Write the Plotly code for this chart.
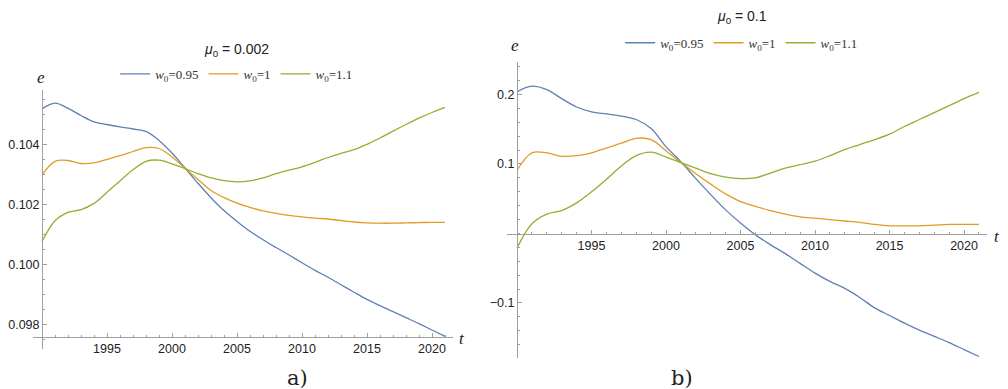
import plotly.graph_objects as go

years = list(range(1990, 2022))

# Panel a) mu0 = 0.002
a_w095 = [0.10518, 0.10537, 0.10520, 0.10496, 0.10475, 0.10466, 0.10458, 0.10451,
          0.10443, 0.10413, 0.10371, 0.10321, 0.10270, 0.10222, 0.10179, 0.10143,
          0.10110, 0.10082, 0.10056, 0.10031, 0.10005, 0.09980, 0.09957, 0.09932,
          0.09907, 0.09883, 0.09862, 0.09842, 0.09822, 0.09802, 0.09781, 0.09760]
a_w1 = [0.10298, 0.10343, 0.10346, 0.10336, 0.10338, 0.10350, 0.10362, 0.10376,
        0.10389, 0.10386, 0.10358, 0.10320, 0.10283, 0.10246, 0.10222, 0.10204,
        0.10190, 0.10178, 0.10170, 0.10163, 0.10158, 0.10154, 0.10151, 0.10146,
        0.10141, 0.10138, 0.10137, 0.10137, 0.10138, 0.10139, 0.10140, 0.10140]
a_w11 = [0.10075, 0.10145, 0.10173, 0.10182, 0.10203, 0.10240, 0.10278, 0.10315,
         0.10343, 0.10347, 0.10335, 0.10319, 0.10302, 0.10288, 0.10279, 0.10275,
         0.10278, 0.10288, 0.10302, 0.10314, 0.10325, 0.10340, 0.10356, 0.10370,
         0.10382, 0.10400, 0.10421, 0.10444, 0.10466, 0.10487, 0.10506, 0.10523]

# Panel b) mu0 = 0.1
b_w095 = [0.204, 0.212, 0.207, 0.194, 0.182, 0.175, 0.172, 0.169,
          0.164, 0.151, 0.125, 0.103, 0.079, 0.056, 0.034, 0.015,
          -0.002, -0.016, -0.029, -0.043, -0.057, -0.069, -0.079, -0.092,
          -0.107, -0.118, -0.129, -0.139, -0.148, -0.157, -0.167, -0.177]
b_w1 = [0.091, 0.116, 0.116, 0.111, 0.112, 0.116, 0.123, 0.130,
        0.137, 0.135, 0.119, 0.102, 0.086, 0.071, 0.057, 0.046,
        0.039, 0.033, 0.028, 0.024, 0.022, 0.020, 0.018, 0.016,
        0.013, 0.011, 0.011, 0.011, 0.012, 0.013, 0.013, 0.013]
b_w11 = [-0.021, 0.014, 0.028, 0.033, 0.044, 0.060, 0.078, 0.097,
         0.112, 0.117, 0.110, 0.102, 0.094, 0.086, 0.081, 0.079,
         0.080, 0.087, 0.094, 0.099, 0.104, 0.112, 0.121, 0.128,
         0.135, 0.143, 0.154, 0.164, 0.174, 0.184, 0.194, 0.203]

series_names = ["<i>w</i><sub>0</sub>=0.95", "<i>w</i><sub>0</sub>=1", "<i>w</i><sub>0</sub>=1.1"]
colors = ["#5E81B5", "#E19C24", "#8FB032"]

x_ticks = [1995, 2000, 2005, 2010, 2015, 2020]
a_yticks = [0.098, 0.100, 0.102, 0.104]
a_yticktext = ["0.098", "0.100", "0.102", "0.104"]
b_yticks = [-0.1, 0.1, 0.2]
b_yticktext = ["\u22120.1", "0.1", "0.2"]

fig = go.Figure()
for vals, name, col in zip([a_w095, a_w1, a_w11], series_names, colors):
    fig.add_trace(go.Scatter(x=years, y=vals, mode="lines", name=name,
                             line=dict(color=col, width=1.3, shape="spline"),
                             xaxis="x", yaxis="y", legend="legend", hoverinfo="skip"))
for vals, name, col in zip([b_w095, b_w1, b_w11], series_names, colors):
    fig.add_trace(go.Scatter(x=years, y=vals, mode="lines", name=name,
                             line=dict(color=col, width=1.3, shape="spline"),
                             xaxis="x2", yaxis="y2", legend="legend2", hoverinfo="skip"))

axcol = "#a0a0a0"
tickfont = dict(family="Liberation Sans, Arial, sans-serif", size=12.5, color="#222")
common = dict(showline=True, linecolor=axcol, linewidth=1, showgrid=False, zeroline=False,
              ticks="inside", ticklen=4, tickcolor=axcol, tickwidth=1, tickfont=tickfont,
              tickmode="array", fixedrange=True)

fig.update_layout(
    width=1008, height=389,
    margin=dict(l=0, r=0, t=0, b=0),
    paper_bgcolor="white", plot_bgcolor="white",
    xaxis=dict(domain=[33/1008, 453/1008], range=[1989.308, 2021.615], anchor="free",
               position=0.13445, tickvals=x_ticks,
               minor=dict(tickmode="linear", tick0=1990, dtick=1, ticks="inside",
                          ticklen=2, tickcolor=axcol), **common),
    yaxis=dict(domain=[0.10283, 0.76864], range=[0.097177, 0.10581], anchor="free",
               position=42/1008, tickvals=a_yticks, ticktext=a_yticktext,
               minor=dict(tickmode="linear", tick0=0.098, dtick=0.0005, ticks="inside",
                          ticklen=2, tickcolor=axcol), **common),
    xaxis2=dict(domain=[506.7/1008, 986.7/1008], range=[1989.309, 2021.52], anchor="free",
                position=0.3997, tickvals=x_ticks,
                minor=dict(tickmode="linear", tick0=1990, dtick=1, ticks="inside",
                           ticklen=2, tickcolor=axcol), **common),
    yaxis2=dict(domain=[0.0789, 0.8414], range=[-0.1796, 0.2472], anchor="free",
                position=517/1008, tickvals=b_yticks, ticktext=b_yticktext,
                minor=dict(tickmode="linear", tick0=0, dtick=0.02, ticks="inside",
                           ticklen=2, tickcolor=axcol), **common),
    legend=dict(orientation="h", x=0.2348, xanchor="center", y=0.8098, yanchor="middle",
                font=dict(family="Liberation Serif, Times New Roman, serif", size=13, color="#333"),
                bgcolor="rgba(0,0,0,0)", itemclick=False, itemdoubleclick=False),
    legend2=dict(orientation="h", x=0.7358, xanchor="center", y=0.890, yanchor="middle",
                 font=dict(family="Liberation Serif, Times New Roman, serif", size=13, color="#333"),
                 bgcolor="rgba(0,0,0,0)", itemclick=False, itemdoubleclick=False),
    showlegend=True,
    hovermode=False,
)

titlefont = dict(family="Liberation Sans, Arial, sans-serif", size=14, color="#222")
labfont = dict(family="Liberation Serif, Times New Roman, serif", size=17, color="#222")
panelfont = dict(family="DejaVu Serif, Liberation Serif, serif", size=21, color="#222")
ann = [
    dict(text="<i>\u03bc</i><sub>0</sub> = 0.002", x=0.2348, y=0.8715, font=titlefont),
    dict(text="<i>\u03bc</i><sub>0</sub> = 0.1", x=0.7358, y=0.957, font=titlefont),
    dict(text="<i>e</i>", x=0.0404, y=0.8003, font=labfont),
    dict(text="<i>e</i>", x=0.5109, y=0.8843, font=labfont),
    dict(text="<i>t</i>", x=0.4580, y=0.1303, font=labfont),
    dict(text="<i>t</i>", x=0.9888, y=0.3915, font=labfont),
    dict(text="a)", x=0.2956, y=0.0283, font=panelfont),
    dict(text="b)", x=0.6763, y=0.0283, font=panelfont),
]
for a in ann:
    fig.add_annotation(xref="paper", yref="paper", showarrow=False,
                       xanchor="center", yanchor="middle", **a)

fig.write_html("out.html", config={"displayModeBar": False})
